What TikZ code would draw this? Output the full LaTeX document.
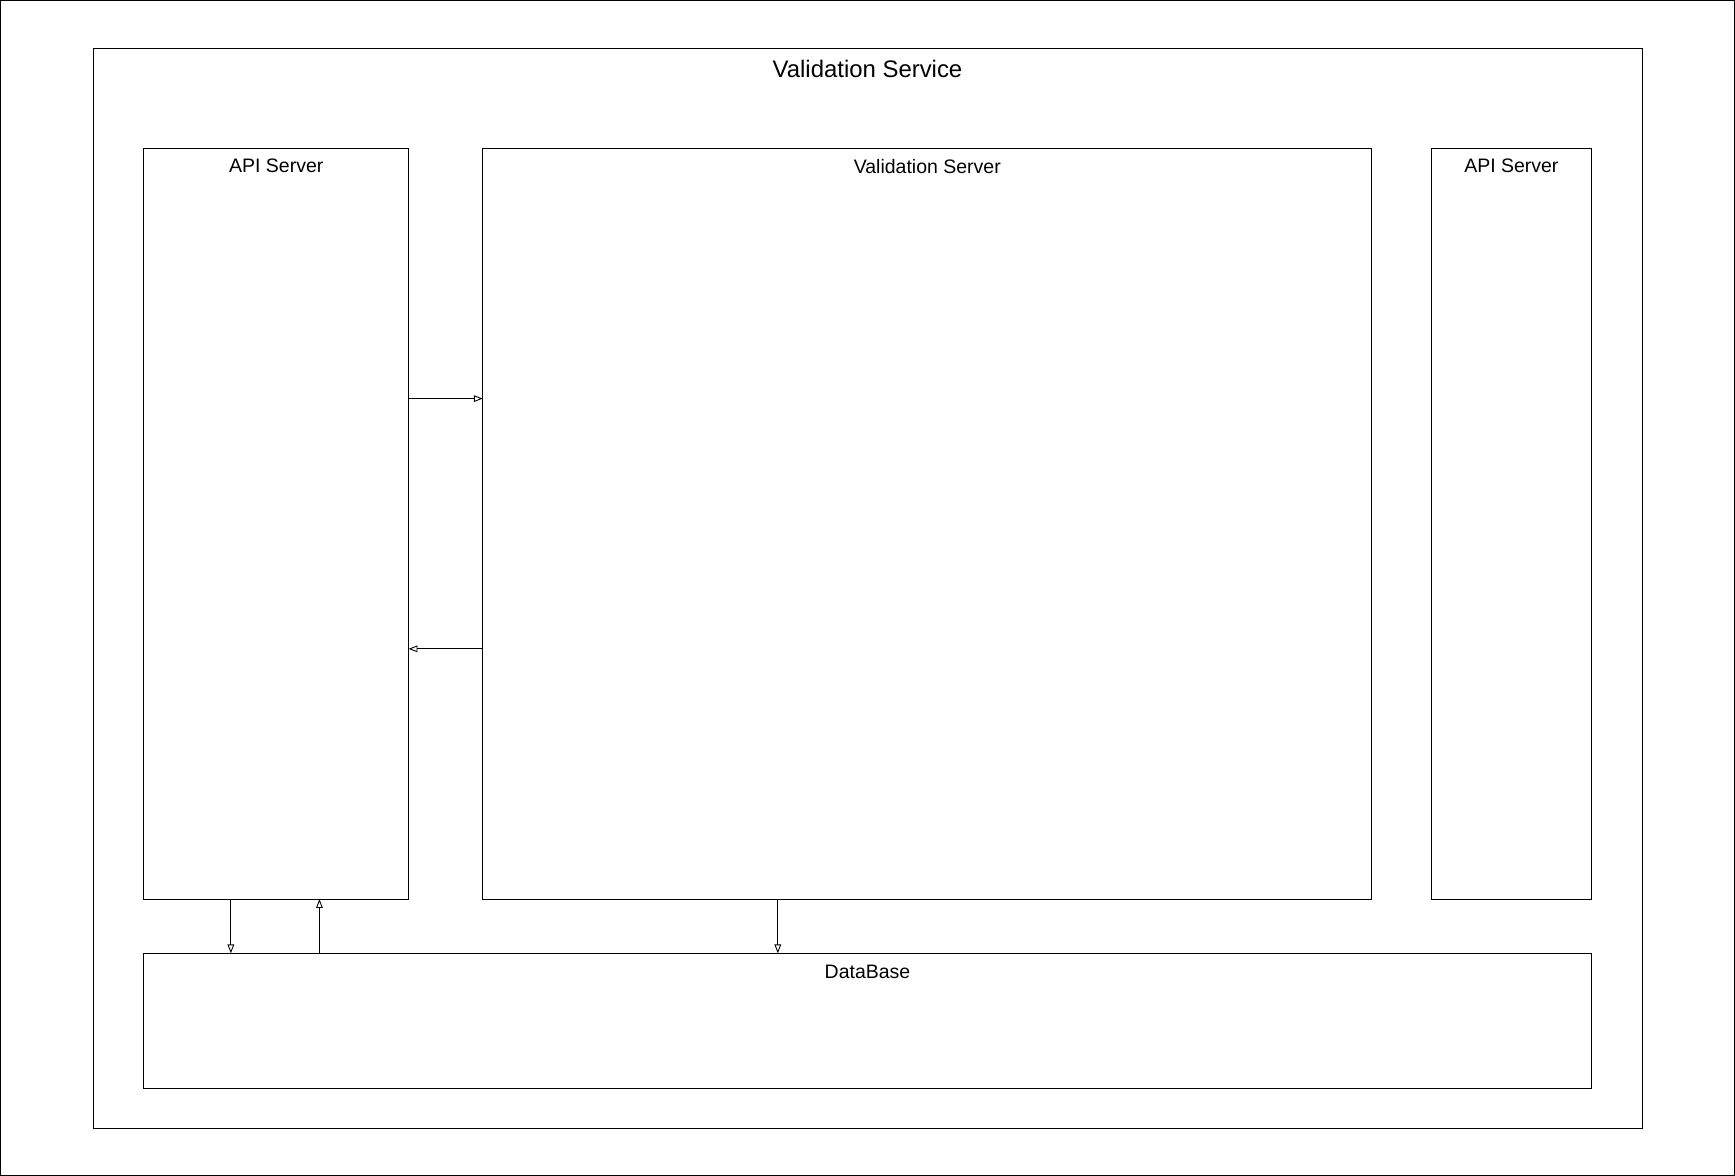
\documentclass[tikz,border=0pt]{standalone}
\usepackage{fontspec}
\setmainfont{Liberation Sans}
\usetikzlibrary{positioning,arrows.meta}

\tikzset{
    box/.style={draw, line width=0.45pt, anchor=north west, inner sep=0pt, outer sep=0pt},
    titolo/.style={inner sep=0pt, font=\fontsize{8.8}{10}\selectfont},
    freccia/.style={line width=0.4pt, -{Triangle[open, length=4pt, width=3pt]}}
}

\begin{document}
\begin{tikzpicture}[x=0.5pt,y=-0.5pt]
        \useasboundingbox (0,0) rectangle (1567,1062); % area della figura
        \draw[line width=0.45pt] (0.5,0.5) rectangle (1566.5,1061.5); % cornice esterna
        \node[box, minimum width=699.5pt, minimum height=487.5pt] (servizio) at (84,44) {}; % contenitore del servizio
        \node[titolo, font=\fontsize{10.8}{12}\selectfont, below=5pt of servizio.north] (tservizio) {Validation Service};
        \node[box, minimum width=119.5pt, minimum height=339pt] (api1) at (130,134) {}; % primo API server
        \node[titolo, below=4.6pt of api1.north] (tapi1) {API Server};
        \node[box, minimum width=401.5pt, minimum height=339pt] (valid) at (436,134) {}; % server di validazione
        \node[titolo, below=4.6pt of valid.north] (tvalid) {Validation Server};
        \node[box, minimum width=72pt, minimum height=339pt] (api2) at (1293,134) {}; % secondo API server
        \node[titolo, below=4.6pt of api2.north] (tapi2) {API Server};
        \node[box, minimum width=653.5pt, minimum height=61pt] (db) at (130,861) {}; % database
        \node[titolo, below=5pt of db.north] (tdb) {DataBase};
        \draw[freccia] ([yshift=56.5pt]api1.east) -- ([yshift=56.5pt]valid.west); % richiesta
        \draw[freccia] ([yshift=-56.5pt]valid.west) -- ([yshift=-56.5pt]api1.east); % risposta
        \draw[freccia] ([xshift=-20.5pt]api1.south) -- ([xshift=-20.5pt]api1.south |- db.north); % scrittura
        \draw[freccia] ([xshift=19.5pt]api1.south |- db.north) -- ([xshift=19.5pt]api1.south); % lettura
        \draw[freccia] ([xshift=-67.5pt]valid.south) -- ([xshift=-67.5pt]valid.south |- db.north); % salvataggio esito
    \end{tikzpicture}
\end{document}
